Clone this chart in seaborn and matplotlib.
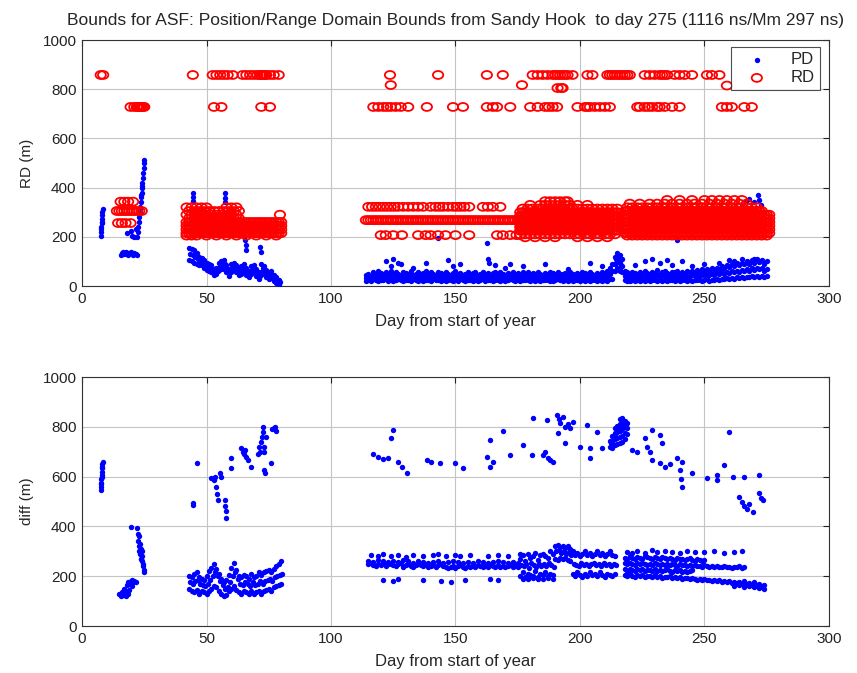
import matplotlib
matplotlib.use("Agg")
import matplotlib.pyplot as plt
from matplotlib.path import Path
import numpy as np
import pandas as pd
import seaborn as sns

# ---------------------------------------------------------------- data
# Range-domain bound (RD), rows of constant level: (level in m, days)
rd_858_days = [7.5, 8.5, 44.5, 52.5, 54, 55.5, 57, 58.5, 60.5, 64.5, 66, 67.5, 69,
               70.5, 71.5, 72, 72.5, 73, 73.5, 74, 75.5, 77, 79, 123.7, 143, 162.6,
               169, 181, 183, 185, 187, 189, 190, 191, 192, 193, 194, 195, 197, 203,
               205, 211, 212, 213, 214, 215, 216, 217, 218, 219, 220, 226, 228, 230,
               232, 233, 234, 235, 238, 240, 242, 245, 251, 253, 256]
rd_728_days = [19.5, 21, 22, 22.5, 23, 23.5, 24, 24.5, 25, 53, 56, 72, 75.5, 117,
               119, 121, 122.5, 124, 126, 128, 131, 138.5, 149, 153, 162.6, 165,
               166.7, 172, 180, 183, 186, 187.5, 189, 190.8, 199, 202, 203, 204,
               206, 208, 210, 212, 223, 224, 226, 227.5, 229, 231, 232, 234, 237,
               240, 257, 259, 261, 266, 269]
rd_odd_days = [124, 176.7, 191, 192.5, 193, 259]
rd_odd_m = [817, 817, 805, 805, 805, 815]

rd_jan_343 = [15.5, 17, 18.5, 20.5]
rd_jan_305 = [14, 15, 16, 17, 18, 19, 20, 21, 22, 23, 24]
rd_jan_256 = [14.5, 16, 17.5, 19.5]

spring_even = [42, 44, 46, 48, 50, 52, 54, 56, 58, 60, 62, 64, 66, 68, 70, 72, 74,
               76, 78, 80]
spring_odd = [43, 45, 47, 49, 51, 53, 55, 57, 59, 61, 63, 65, 67, 69, 71, 73, 75,
              77, 79]
rd_spring_320 = [42, 44, 46, 48, 50, 58, 60, 62]
rd_spring_305 = [43, 45, 47, 49, 51, 53, 55, 57, 59, 61, 63]
rd_spring_290 = [42, 44, 46, 48, 50, 52, 54, 56, 58, 60, 62, 79.5]
rd_spring_275 = [43, 45, 47, 49, 51, 53, 55, 57, 59, 61, 63]
rd_spring_205 = [42, 44, 46, 50, 54, 58, 62, 66, 70, 74, 78]

rd_268_days = [114, 115, 116, 117, 118, 119, 120, 121, 122, 123, 124, 125, 126, 127,
               128, 129, 130, 131, 132, 133, 134, 135, 136, 137, 138, 139, 140, 141,
               142, 143, 144, 145, 146, 147, 148, 149, 150, 151, 152, 153, 154, 155,
               156, 157, 158, 159, 160, 161, 162, 163, 164, 165, 166, 167, 168, 169,
               170, 171, 172, 173, 174, 175, 176, 177]
rd_322_days = [115, 116.5, 118, 119.5, 121, 122.5, 124, 125.5, 127, 129, 131, 133,
               135, 137, 140, 142, 143.5, 145, 147, 149, 150.5, 152, 153.5, 155.5,
               161, 163, 165, 168]
rd_207_days = [120, 122, 125, 128.5, 135, 138, 140, 143, 146, 150, 155.5, 166.7,
               169, 172, 174.5, 176]

summer_even = [176, 178, 180, 182, 184, 186, 188, 190, 192, 194, 196, 198, 200, 202,
               204, 206, 208, 210, 212, 214]
summer_odd = [177, 179, 181, 183, 185, 187, 189, 191, 193, 195, 197, 199, 201, 203,
              205, 207, 209, 211, 213, 215]
rd_summer_345 = [186, 188, 190, 192, 194, 195]
rd_summer_330 = [180, 184, 186, 188, 190, 192, 194, 196, 199, 203]
rd_summer_198 = [178, 182, 186, 190, 199, 203, 207, 211]

autumn_even = [218, 220, 222, 224, 226, 228, 230, 232, 234, 236, 238, 240, 242, 244,
               246, 248, 250, 252, 254, 256, 258, 260, 262, 264, 266, 268, 270, 272,
               274, 276]
autumn_odd = [219, 221, 223, 225, 227, 229, 231, 233, 235, 237, 239, 241, 243, 245,
              247, 249, 251, 253, 255, 257, 259, 261, 263, 265, 267, 269, 271, 273,
              275]
rd_autumn_350 = [235, 240, 245, 250, 253, 256, 259, 262, 265]
rd_autumn_335 = [220, 224, 228, 231, 234, 237, 240, 243, 246, 249, 252, 255, 258,
                 261, 264, 267]

# Position-domain bound (PD)
pd_jan_day = [7.6, 7.7, 7.7, 7.8, 7.9, 8.0, 8.0, 8.1, 8.2, 8.3,
              15.5, 16, 16.5, 17, 17.5, 18, 18.5, 19, 19.5, 20, 20.5, 21, 21.5, 22,
              18, 19.5, 20, 21, 21.5,
              22, 22.3, 22.6, 22.8, 23, 23.2, 23.4, 23.5, 23.7, 23.9, 24, 24.2, 24.4,
              24.5, 24.7, 24.9, 25, 23.3, 23.8, 24.1]
pd_jan_m = [205, 220, 232, 240, 255, 262, 272, 287, 300, 312,
            128, 135, 140, 132, 138, 130, 126, 135, 140, 133, 128, 136, 130, 125,
            215, 225, 205, 200, 230,
            200, 220, 240, 260, 280, 300, 320, 340, 360, 380, 400, 420, 440,
            460, 480, 500, 512, 310, 370, 405]

spring_days = [43, 44, 45, 46, 47, 48, 49, 50, 51, 52, 53, 54, 55, 56, 57, 58, 59, 60,
               61, 62, 63, 64, 65, 66, 67, 68, 69, 70, 71, 72, 73, 74, 75, 76, 77,
               78, 79]
pd_spring_hi = [155, 150, 145, 135, 120, 115, 105, 95, 90, 85, 70, 75, 95, 100, 105,
                85, 70, 90, 95, 85, 70, 80, 90, 75, 60, 80, 85, 70, 55, 90, 80, 65,
                50, 60, 45, 35, 25]
pd_spring_mid = [130, 125, 120, 110, 100, 100, 90, 80, 75, 70, 58, 60, 80, 85, 88,
                 70, 55, 75, 80, 70, 58, 65, 75, 60, 48, 65, 70, 55, 42, 72, 62, 50,
                 38, 45, 32, 22, 15]
pd_spring_lo = [105, 100, 95, 90, 85, 85, 75, 65, 60, 55, 45, 48, 65, 68, 70, 55, 42,
                58, 65, 55, 45, 50, 58, 45, 35, 50, 55, 42, 30, 55, 48, 38, 28, 32,
                20, 12, 5]
pd_spike_day = [44.6, 44.6, 44.6, 57.4, 57.4, 57.4, 54.6, 65.5, 65.7, 65.9, 71.5,
                71.7]
pd_spike_m = [378, 360, 345, 378, 358, 340, 220, 187, 165, 146, 158, 140]

late_days = list(range(114, 276))
pd_late_lo = [22, 25, 20, 28, 24, 21, 26, 23, 27, 22,
              25, 20, 24, 28, 23, 21, 26, 24, 22, 27,
              23, 20, 25, 22, 26, 24, 21, 27, 23, 25,
              20, 24, 22, 26, 23, 21, 25, 22, 27, 24,
              21, 23, 26, 22, 25, 20, 24, 27, 22, 25,
              23, 21, 26, 24, 22, 25, 20, 23, 27, 24,
              22, 25, 21, 24, 26, 23, 20, 25, 22, 24,
              21, 26, 23, 25, 22, 20, 24, 27, 23, 21,
              25, 22, 24, 20, 26, 23, 21, 25, 22, 24,
              20, 23, 26, 22, 25, 21, 24, 22, 27, 30,
              60, 70, 65, 55, 25, 22, 20, 24, 21, 23,
              20, 25, 22, 24, 21, 26, 23, 20, 24, 22,
              25, 21, 23, 26, 22, 24, 20, 25, 23, 21,
              24, 22, 26, 23, 25, 21, 24, 27, 22, 26,
              24, 28, 25, 30, 27, 32, 29, 33, 30, 35,
              32, 36, 34, 38, 35, 40, 37, 42, 38, 40,
              36, 40]
pd_late_mid = [34, 38, 31, 40, 36, 42, 37, 33, 41, 35,
               43, 34, 39, 37, 32, 40, 36, 34, 42, 33,
               36, 40, 34, 37, 42, 33, 39, 36, 32, 41,
               37, 34, 40, 36, 33, 38, 42, 35, 38, 32,
               36, 39, 33, 37, 41, 32, 36, 40, 34, 38,
               33, 37, 41, 35, 39, 36, 32, 38, 35, 40,
               34, 37, 33, 39, 36, 41, 33, 38, 35, 40,
               36, 32, 38, 35, 40, 37, 33, 39, 36, 34,
               38, 34, 40, 36, 32, 38, 35, 41, 37, 34,
               39, 36, 33, 38, 35, 41, 37, 42, 50, 60,
               90, 100, 95, 80, 42, 38, 35, 41, 37, 34,
               40, 36, 44, 38, 34, 42, 37, 45, 36, 40,
               43, 37, 35, 42, 39, 44, 36, 40, 38, 42,
               40, 44, 42, 46, 40, 48, 43, 48, 44, 50,
               46, 52, 48, 55, 50, 58, 52, 60, 55, 63,
               58, 65, 62, 68, 60, 72, 66, 75, 68, 72,
               62, 70]
pd_late_hi = [45, 50, 42, 55, 48, 60, 52, 46, 58, 50,
              62, 48, 55, 50, 45, 57, 52, 48, 60, 46,
              50, 56, 48, 52, 60, 47, 55, 50, 45, 58,
              52, 48, 56, 50, 46, 54, 60, 48, 52, 45,
              50, 55, 47, 52, 58, 45, 50, 56, 48, 53,
              46, 52, 58, 48, 55, 50, 45, 53, 49, 56,
              48, 52, 46, 55, 50, 58, 47, 53, 49, 56,
              50, 45, 54, 48, 57, 52, 46, 55, 50, 48,
              53, 47, 56, 50, 45, 54, 49, 58, 52, 47,
              55, 50, 46, 53, 48, 58, 52, 60, 75, 90,
              120, 135, 125, 110, 60, 55, 50, 58, 52, 48,
              56, 50, 62, 54, 48, 58, 52, 65, 50, 56,
              60, 52, 48, 58, 55, 62, 50, 56, 53, 60,
              55, 62, 58, 65, 56, 70, 60, 68, 62, 72,
              65, 75, 70, 80, 72, 85, 76, 88, 80, 92,
              85, 95, 90, 100, 88, 105, 95, 110, 98, 105,
              90, 100]
pd_extra_day = [122, 124, 125, 127, 128, 133, 138, 143, 147, 149, 152, 162.6, 163,
                163.5, 166, 170, 172, 177, 186, 195, 204, 209, 214, 214.5, 215,
                215.5, 216, 216.5, 215, 216, 222, 226, 229, 232, 235, 237, 239, 241,
                245, 250, 256, 260, 262, 265, 268, 270, 272, 265, 266.5, 268, 270,
                271.5, 272, 272.5]
pd_extra_m = [100, 80, 110, 95, 88, 75, 92, 195, 105, 80, 88, 175, 110, 95, 85, 75,
              90, 80, 90, 70, 95, 80, 90, 110, 100, 120, 95, 80, 75, 60, 85, 100,
              110, 95, 105, 85, 187, 100, 80, 90, 95, 105, 100, 110, 95, 110, 100,
              330, 345, 355, 340, 370, 350, 330]

# Difference (diff)
diff_jan_day = [7.5, 7.6, 7.7, 7.8, 7.9, 8.0, 8.1, 8.2, 8.3, 7.8, 8.0, 8.2,
                15, 15.5, 16, 16.5, 17, 17.5, 18, 18.5, 19, 19.5, 20, 20.5, 21, 21.5,
                17.5, 18.5, 19, 20, 19.7,
                22.2, 22.4, 22.6, 22.8, 23, 23.2, 23.4, 23.6, 23.8, 24, 24.2, 24.4,
                24.6, 24.8, 25, 23, 23.5, 24]
diff_jan_m = [545, 560, 575, 590, 605, 620, 635, 650, 660, 570, 600, 640,
              130, 120, 135, 125, 150, 140, 165, 175, 170, 180, 185, 178, 182, 175,
              120, 130, 145, 160, 398,
              395, 370, 340, 320, 300, 330, 290, 310, 270, 280, 260, 240,
              250, 225, 215, 360, 270, 300]

spring_diff_days = [43, 44, 45, 46, 47, 48, 49, 50, 51, 52, 53, 54, 55, 56, 57, 58,
                    59, 60, 61, 62, 63, 64, 65, 66, 67, 68, 69, 70, 71, 72, 73, 74,
                    75, 76, 77, 78, 79, 80]
diff_spring_lo = [150, 140, 135, 145, 130, 140, 135, 130, 140, 150, 160, 155, 140,
                  130, 120, 125, 140, 150, 160, 145, 135, 130, 140, 135, 130, 140,
                  130, 135, 140, 130, 140, 145, 150, 140, 155, 160, 165, 170]
diff_spring_mid = [175, 170, 180, 185, 170, 165, 160, 170, 185, 200, 215, 200, 180,
                   165, 150, 155, 175, 200, 215, 190, 170, 165, 175, 170, 160, 175,
                   165, 170, 180, 170, 180, 185, 190, 180, 195, 200, 205, 210]
diff_spring_hi = [200, 195, 210, 215, 195, 190, 185, 200, 220, 235, 250, 230, 210,
                  190, 175, 185, 205, 235, 255, 225, 200, 195, 205, 200, 190, 210,
                  195, 200, 215, 205, 215, 220, 225, 215, 230, 240, 250, 260]
diff_spring_up_day = [44.6, 44.6, 46, 52, 53, 53.5, 54, 54.3, 54.5, 55.4, 55.8,
                      57.4, 57.6, 57.8, 58, 59.8, 60, 64, 64.5, 65, 65.5, 66, 66.7,
                      68, 70.7, 71, 71.5, 72, 72.3, 72.5, 72.8, 73, 73.2, 73.5, 73,
                      74, 76, 76.5, 77, 77.5, 78]
diff_spring_up_m = [494, 485, 655, 595, 585, 600, 558, 530, 506, 614, 600, 506, 480,
                    460, 434, 675, 635, 715, 700, 690, 705, 680, 667, 640, 690, 720,
                    700, 740, 760, 800, 780, 720, 700, 614, 625, 760, 655, 790, 795,
                    800, 785]

mid_days = list(range(115, 176))
diff_mid_a = [248, 252, 244, 240, 250, 246, 255, 242, 248, 250,
              244, 240, 248, 252, 238, 245, 250, 242, 236, 246,
              250, 244, 240, 248, 236, 242, 246, 238, 244, 250,
              240, 236, 232, 238, 242, 235, 240, 244, 238, 234,
              240, 236, 242, 238, 244, 240, 236, 242, 238, 245,
              240, 236, 244, 238, 242, 236, 240, 244, 238, 242, 236]
mid_days_b = [115, 117, 119, 121, 123, 125, 127, 129, 131, 133, 135, 137, 139, 141,
              143, 145, 147, 149, 151, 153, 155, 157, 159, 161, 163, 165, 167, 169,
              171, 173, 175]
diff_mid_b = [262, 258, 265, 260, 256, 262, 258, 264, 260, 255, 262, 258, 252, 256,
              260, 254, 258, 262, 256, 252, 258, 255, 260, 256, 252, 258, 262, 256,
              254, 258, 252]
diff_mid_top_day = [116, 119, 121, 124, 127, 130, 133, 137, 141, 143, 146, 150, 152,
                    156, 163, 167, 171, 176]
diff_mid_top_m = [285, 280, 288, 282, 285, 278, 286, 280, 284, 288, 282, 286, 280,
                  284, 282, 286, 280, 290]
diff_mid_low_day = [121, 125, 127, 137, 144, 148, 154, 164, 167, 177, 179, 181, 183,
                    185, 187, 189]
diff_mid_low_m = [185, 182, 188, 184, 180, 178, 183, 187, 185, 190, 188, 192, 190,
                  188, 192, 190]

summer_days = list(range(176, 215))
diff_summer_1 = [270, 285, 260, 290, 275, 280, 295, 265, 285, 290,
                 280, 275, 300, 290, 320, 325, 318, 322, 315, 320,
                 310, 300, 285, 295, 280, 290, 300, 285, 295, 280,
                 290, 300, 285, 295, 280, 290, 300, 285, 280]
diff_summer_2 = [245, 240, 250, 235, 255, 245, 238, 250, 242, 248,
                 240, 252, 245, 238, 300, 305, 295, 300, 290, 298,
                 285, 250, 245, 240, 255, 245, 250, 240, 248, 255,
                 245, 250, 240, 255, 245, 250, 240, 248, 245]
diff_summer_3 = [200, 215, 195, 210, 205, 200, 220, 198, 210, 205,
                 215, 200, 210, 205, 270, 265, 275, 268, 272, 265,
                 260, 210, 200, 215, 205, 198, 210, 200, 215, 205,
                 210, 200, 215, 205, 198, 210, 205, 200, 210]

autumn_mid_days = list(range(218, 267))
diff_autumn_mid = [252, 248, 255, 250, 246, 252, 248, 254, 250, 246,
                   250, 246, 252, 248, 244, 250, 246, 248, 244, 250,
                   246, 242, 248, 244, 246, 240, 244, 242, 246, 240,
                   242, 238, 244, 240, 238, 242, 236, 240, 238, 236,
                   240, 236, 238, 234, 238, 236, 240, 234, 238]
autumn_up_days = list(range(218, 251))
diff_autumn_up = [275, 270, 280, 272, 268, 278, 274, 270, 282, 276,
                  272, 268, 278, 274, 270, 276, 272, 268, 274, 270,
                  266, 272, 268, 270, 264, 268, 272, 266, 262, 268,
                  264, 260, 266]
autumn_low_days = list(range(218, 275))
diff_autumn_low = [205, 200, 210, 202, 198, 206, 200, 204, 198, 202,
                   200, 196, 204, 198, 200, 194, 198, 196, 200, 194,
                   196, 192, 198, 190, 194, 192, 188, 194, 190, 186,
                   190, 186, 188, 184, 186, 182, 186, 180, 184, 178,
                   182, 176, 180, 174, 178, 172, 176, 170, 174, 168,
                   172, 166, 170, 164, 168, 162, 166]
autumn_lm_days = list(range(218, 246))
diff_autumn_lm = [228, 222, 230, 225, 220, 228, 224, 230, 222, 226,
                  224, 220, 228, 222, 226, 220, 224, 228, 222, 218,
                  224, 220, 226, 218, 222, 216, 220, 224]
diff_autumn_misc_day = [262, 264, 266, 268, 270, 271, 272, 273, 274, 270, 266,
                        219, 221, 223, 226, 229, 231, 234, 237, 240, 243, 246, 250,
                        254, 258, 262, 265]
diff_autumn_misc_m = [160, 165, 158, 162, 155, 160, 152, 158, 150, 175, 180,
                      298, 292, 300, 295, 305, 298, 302, 296, 292, 300, 298, 296,
                      300, 294, 298, 302]

diff_hi_day = [117, 119, 121, 123, 124, 125, 127, 128.5, 130.5, 138.5, 140, 143.8,
               150, 153, 162.6, 164, 165, 164, 169, 172, 177, 180.7, 181, 185, 186,
               187, 188, 189, 186.7, 190.8, 191.5, 192, 193, 194, 195, 196, 191, 194,
               197, 200, 203, 204, 204, 207, 209, 221, 223, 226, 229, 232, 233, 227,
               228, 229, 232, 234, 236, 239, 241, 240, 240.5, 241, 245, 251, 255, 255,
               258, 260, 261.5, 266, 272, 264, 265, 266, 267, 268, 269.5, 272, 272.5,
               273.5]
diff_hi_m = [690, 680, 670, 675, 755, 787, 659, 640, 614, 667, 660, 655, 655, 635,
             680, 640, 660, 747, 783, 687, 727, 687, 835, 687, 700, 675, 665, 660,
             827, 847, 830, 815, 840, 800, 810, 795, 775, 735, 820, 720, 807, 715,
             675, 780, 715, 707, 700, 755, 787, 767, 735, 720, 700, 667, 655, 640,
             650, 675, 660, 627, 590, 560, 614, 594, 606, 586, 647, 780, 600, 600,
             606, 518, 500, 480, 470, 490, 458, 534, 515, 506]
diff_cloud_day = [212, 212, 212.5, 213, 213, 213, 213.5, 214, 214, 214, 214, 214.5,
                  215, 215, 215, 215, 215.5, 216, 216, 216, 216, 216, 216.5, 217,
                  217, 217, 217, 217, 217.5, 218, 218, 218, 218, 218.5, 219, 219, 219]
diff_cloud_m = [720, 745, 735, 715, 740, 765, 755, 725, 750, 775, 795, 760, 730, 755,
                780, 805, 790, 735, 760, 785, 810, 830, 800, 740, 765, 790, 815, 835,
                820, 750, 775, 800, 825, 810, 770, 795, 815]


def level_rows(pairs):
    """Expand (level, days) rows into day/value columns."""
    days, vals = [], []
    for level, ds in pairs:
        days += list(ds)
        vals += [level] * len(ds)
    return days, vals


spring_all = sorted(spring_even + spring_odd)
summer_all = sorted(summer_even + summer_odd)
autumn_all = sorted(autumn_even + autumn_odd)

rd_d, rd_v = level_rows([
    (858, rd_858_days), (728, rd_728_days),
    (343, rd_jan_343), (305, rd_jan_305), (256, rd_jan_256),
    (320, rd_spring_320), (305, rd_spring_305), (290, rd_spring_290),
    (275, rd_spring_275), (260, spring_all), (245, spring_all),
    (230, spring_all), (215, spring_all), (205, rd_spring_205),
    (268, rd_268_days), (322, rd_322_days), (207, rd_207_days),
    (345, rd_summer_345), (330, rd_summer_330), (315, summer_odd),
    (300, summer_all), (285, summer_all), (270, summer_all), (255, summer_all),
    (240, summer_all), (225, summer_all), (210, summer_even), (198, rd_summer_198),
    (350, rd_autumn_350), (335, rd_autumn_335), (320, autumn_odd[:-2]),
    (305, autumn_all[:-3]), (290, autumn_all), (275, autumn_all),
    (260, autumn_all), (245, autumn_all), (230, autumn_all), (215, autumn_all),
    (205, autumn_odd),
])
rd = pd.DataFrame({"day": rd_d + rd_odd_days, "m": rd_v + rd_odd_m})

pdb = pd.DataFrame({
    "day": (pd_jan_day + spring_days + [d + 0.5 for d in spring_days] + spring_days
            + pd_spike_day + late_days + late_days + late_days + pd_extra_day),
    "m": (pd_jan_m + pd_spring_hi + pd_spring_mid + pd_spring_lo + pd_spike_m
          + pd_late_lo + pd_late_mid + pd_late_hi + pd_extra_m),
})

diff = pd.DataFrame({
    "day": (diff_jan_day + spring_diff_days + [d + 0.5 for d in spring_diff_days]
            + spring_diff_days + diff_spring_up_day + mid_days + mid_days_b
            + diff_mid_top_day + diff_mid_low_day + summer_days
            + [d + 0.5 for d in summer_days] + summer_days + autumn_mid_days
            + autumn_up_days + autumn_low_days + autumn_lm_days
            + diff_autumn_misc_day + diff_hi_day + diff_cloud_day),
    "m": (diff_jan_m + diff_spring_lo + diff_spring_mid + diff_spring_hi
          + diff_spring_up_m + diff_mid_a + diff_mid_b + diff_mid_top_m
          + diff_mid_low_m + diff_summer_1 + diff_summer_2 + diff_summer_3
          + diff_autumn_mid + diff_autumn_up + diff_autumn_low + diff_autumn_lm
          + diff_autumn_misc_m + diff_hi_m + diff_cloud_m),
})

x_ticks = [0, 50, 100, 150, 200, 250, 300]
y_ticks = [0, 200, 400, 600, 800, 1000]

# slightly wide open circle used for the RD marks
_circ = Path.unit_circle()
ring = Path(_circ.vertices * np.array([1.3, 1.0]), _circ.codes)

# ---------------------------------------------------------------- figure
sns.set_style("white")
plt.rcParams["font.family"] = ["Liberation Sans", "DejaVu Sans"]
plt.rcParams["font.size"] = 11

fig = plt.figure(figsize=(8.57, 6.73), dpi=100)
ax1 = fig.add_axes([0.0957, 0.575, 0.8716, 0.3655])
ax2 = fig.add_axes([0.0957, 0.0698, 0.8716, 0.370])

BLUE = "#0000ff"
RED = "#ff0000"

sns.scatterplot(data=pdb, x="day", y="m", ax=ax1, color=BLUE, s=15,
                linewidth=0, marker="o", label="PD", zorder=3)
sns.scatterplot(data=rd, x="day", y="m", ax=ax1, marker=ring, s=55,
                facecolor="none", edgecolor=RED, linewidth=1.3, label="RD",
                zorder=4)
sns.scatterplot(data=diff, x="day", y="m", ax=ax2, color=BLUE, s=15,
                linewidth=0, marker="o", legend=False, zorder=3)

for ax, ylab in ((ax1, "RD (m)"), (ax2, "diff (m)")):
    ax.set_xlim(0, 300)
    ax.set_ylim(0, 1000)
    ax.set_xticks(x_ticks)
    ax.set_yticks(y_ticks)
    ax.set_xlabel("Day from start of year", fontsize=12, labelpad=6)
    ax.set_ylabel(ylab, fontsize=11, labelpad=6)
    ax.grid(True, color="#c4c4c4", linewidth=0.8)
    ax.set_axisbelow(True)
    ax.tick_params(direction="in", length=4, top=True, right=True,
                   labelsize=11, colors="#222222", pad=4)
    for sp in ax.spines.values():
        sp.set_color("#333333")
        sp.set_linewidth(0.8)

ax1.set_title("Bounds for ASF: Position/Range Domain Bounds from Sandy Hook  to day 275 "
              "(1116 ns/Mm 297 ns)", fontsize=12.5, pad=11)

leg = ax1.legend(loc="upper right", bbox_to_anchor=(0.988, 0.972),
                 borderaxespad=0, frameon=True, fancybox=False, fontsize=12,
                 handletextpad=0.8, borderpad=0.3, labelspacing=0.2,
                 handlelength=2.5)
leg.get_frame().set_edgecolor("#222222")
leg.get_frame().set_linewidth(0.8)

fig.savefig("out.png", dpi=100)
